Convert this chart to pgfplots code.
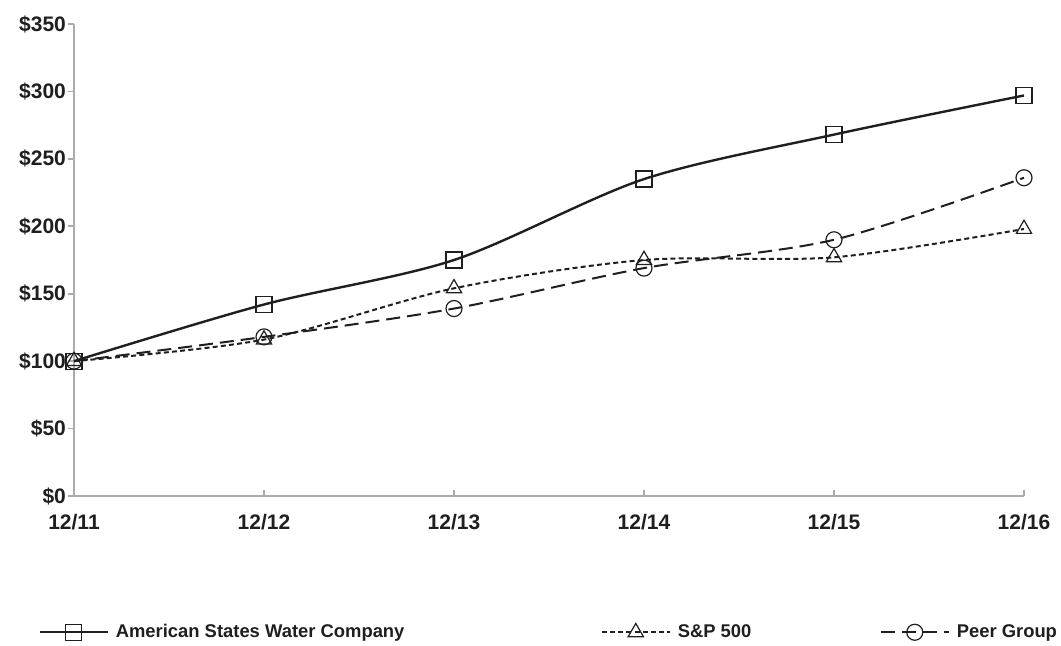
\documentclass[border=0pt]{standalone}
\usepackage{pgfplots}
\pgfplotsset{compat=1.18}
\usepackage{fontspec}
\setmainfont{Liberation Sans}

\definecolor{ink}{HTML}{1F1F1F}
\definecolor{axgray}{HTML}{ABABAB}

\begin{document}
\begin{tikzpicture}
\begin{axis}[
  name=ax,
  scale only axis,
  width=475pt, height=236pt,
  xmin=0, xmax=5, ymin=0, ymax=350,
  axis x line*=bottom, axis y line*=left,
  axis line style={axgray, line width=0.8pt},
  xtick={0,1,2,3,4,5},
  xticklabels={12/11,12/12,12/13,12/14,12/15,12/16},
  ytick={0,50,100,150,200,250,300,350},
  yticklabels={\$0,\$50,\$100,\$150,\$200,\$250,\$300,\$350},
  tick align=inside,
  major tick length=3pt,
  tick style={axgray, line width=0.8pt},
  ytick style={xshift=-3pt},
  ticklabel style={font=\bfseries\fontsize{10.5}{12}\selectfont, text=ink},
  xticklabel style={yshift=-5.5pt},
  yticklabel style={xshift=-0.5pt},
  legend columns=3,
  legend style={draw=none, fill=none, at={(-0.0442,-0.288)}, anchor=west,
    font=\bfseries\fontsize{9.2}{11}\selectfont, text=ink,
    nodes={inner sep=0pt},
    /tikz/every odd column/.append style={column sep=3.5pt}},
  legend image code/.code={\draw[mark repeat=2, mark phase=2, #1]
    plot coordinates {(0pt,0pt) (17pt,0pt) (34pt,0pt)};},
  clip=false,
]
\addplot[ink, line width=1.2pt, smooth,
  mark=square, mark size=4pt, mark options={solid, line width=0.6pt, fill=none}]
  coordinates {(0,100) (1,142) (2,175) (3,235) (4,268) (5,297)};
\addlegendentry{\makebox[242.5pt][l]{American States Water Company}}
\addplot[ink, line width=1pt, smooth, dash pattern=on 2.5pt off 1.6pt,
  mark=triangle, mark size=4.4pt, mark options={solid, line width=0.6pt, fill=none}]
  coordinates {(0,100) (1,116) (2,154) (3,175) (4,177) (5,198)};
\addlegendentry{\makebox[101pt][l]{S\&P 500}}
\addplot[ink, line width=1pt, smooth, dash pattern=on 7pt off 3.5pt,
  mark=o, mark size=4pt, mark options={solid, line width=0.6pt, fill=none}]
  coordinates {(0,100) (1,118) (2,139) (3,169) (4,190) (5,236)};
\addlegendentry{Peer Group}
\end{axis}
\pgfresetboundingbox
\path[use as bounding box] ([shift={(-37pt,-74.5pt)}]ax.south west)
  rectangle ([shift={(493.5pt,248pt)}]ax.south west);
\end{tikzpicture}
\end{document}
